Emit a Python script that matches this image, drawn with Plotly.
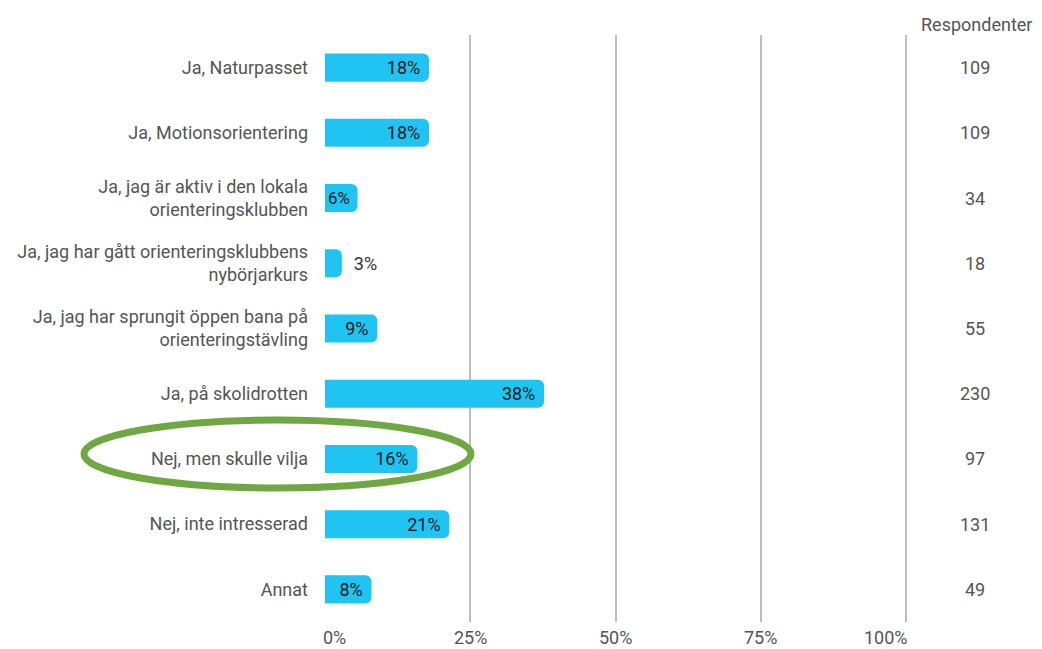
import plotly.graph_objects as go

categories = [
    "Ja, Naturpasset",
    "Ja, Motionsorientering",
    "Ja, jag är aktiv i den lokala<br>orienteringsklubben",
    "Ja, jag har gått orienteringsklubbens<br>nybörjarkurs",
    "Ja, jag har sprungit öppen bana på<br>orienteringstävling",
    "Ja, på skolidrotten",
    "Nej, men skulle vilja",
    "Nej, inte intresserad",
    "Annat",
]
percent_values = [17.9, 17.9, 5.6, 2.9, 9.0, 37.7, 15.9, 21.4, 8.0]
percent_labels = ["18%", "18%", "6%", "3%", "9%", "38%", "16%", "21%", "8%"]
respondents = [109, 109, 34, 18, 55, 230, 97, 131, 49]
x_ticks = [0, 25, 50, 75, 100]
x_tick_labels = ["0%", "25%", "50%", "75%", "100%"]

# page offset (browser body margin)
OFF = 8
VW, VH = 1042, 649
W, H = VW - OFF, VH - OFF

# target pixel geometry in the viewport
X0PX, X100PX = 325, 906
TOPPX, BOTPX = 35, 622
XMAX = 100.5
PW = (X100PX - X0PX) * XMAX / 100.0
ML = X0PX - OFF
MR = W - ML - PW
MT = TOPPX - OFF
MB = H - (BOTPX - OFF)
PH = BOTPX - TOPPX

def px_x(p):
    return (p - X0PX) / PW

def px_y(p):
    return (BOTPX - p) / PH

FONT = "Roboto"
font_gray = "#555555"
FS = 18

bar_text = [("\u00a0\u00a0" + t) if v < 4 else (t + "\u00a0") for t, v in zip(percent_labels, percent_values)]

fig = go.Figure()
fig.add_trace(go.Bar(
    y=categories,
    x=percent_values,
    orientation="h",
    marker=dict(color="#20C4F2", line=dict(width=0)),
    width=0.43,
    text=bar_text,
    textposition="auto",
    insidetextanchor="end",
    insidetextfont=dict(color="#1a1a1a", size=FS, family=FONT),
    outsidetextfont=dict(color="#333333", size=FS, family=FONT),
    constraintext="none",
    cliponaxis=False,
    hoverinfo="skip",
))

for cat, n in zip(categories, respondents):
    fig.add_annotation(
        x=px_x(975), xref="paper", y=cat, yref="y",
        text=str(n), showarrow=False, xanchor="center",
        font=dict(size=FS, color=font_gray, family=FONT),
    )

fig.add_annotation(
    x=px_x(976), xref="paper", y=px_y(25), yref="paper",
    text="Respondenter", showarrow=False, xanchor="center", yanchor="middle",
    font=dict(size=FS, color=font_gray, family=FONT),
)

for v, lab in zip(x_ticks, x_tick_labels):
    anchor = "left" if v == 0 else ("right" if v == 100 else "center")
    fig.add_annotation(
        x=v, xref="x", y=px_y(637), yref="paper",
        text=lab, showarrow=False, xanchor=anchor, yanchor="middle",
        xshift=-4 if v == 0 else (4 if v == 100 else 0),
        font=dict(size=FS, color=font_gray, family=FONT),
    )

fig.add_shape(
    type="circle", xref="paper", yref="paper",
    x0=px_x(84), x1=px_x(471), y0=px_y(488), y1=px_y(420),
    line=dict(color="#6FA843", width=7),
    layer="above",
)

fig.update_layout(
    width=W, height=H,
    margin=dict(l=ML, r=MR, t=MT, b=MB, pad=0, autoexpand=False),
    paper_bgcolor="white",
    plot_bgcolor="white",
    showlegend=False,
    barcornerradius=6,
    font=dict(family=FONT, size=FS, color=font_gray),
    xaxis=dict(
        range=[0, XMAX],
        tickvals=x_ticks,
        showticklabels=False,
        showgrid=True,
        gridcolor="#BDBDBD",
        gridwidth=2,
        zeroline=False,
        showline=False,
        fixedrange=True,
        automargin=False,
    ),
    yaxis=dict(
        autorange="reversed",
        showgrid=False,
        zeroline=False,
        showline=False,
        ticks="",
        ticklabelstandoff=16,
        tickfont=dict(size=FS, color=font_gray, family=FONT),
        fixedrange=True,
        automargin=False,
    ),
)

fig.write_html("out.html")
